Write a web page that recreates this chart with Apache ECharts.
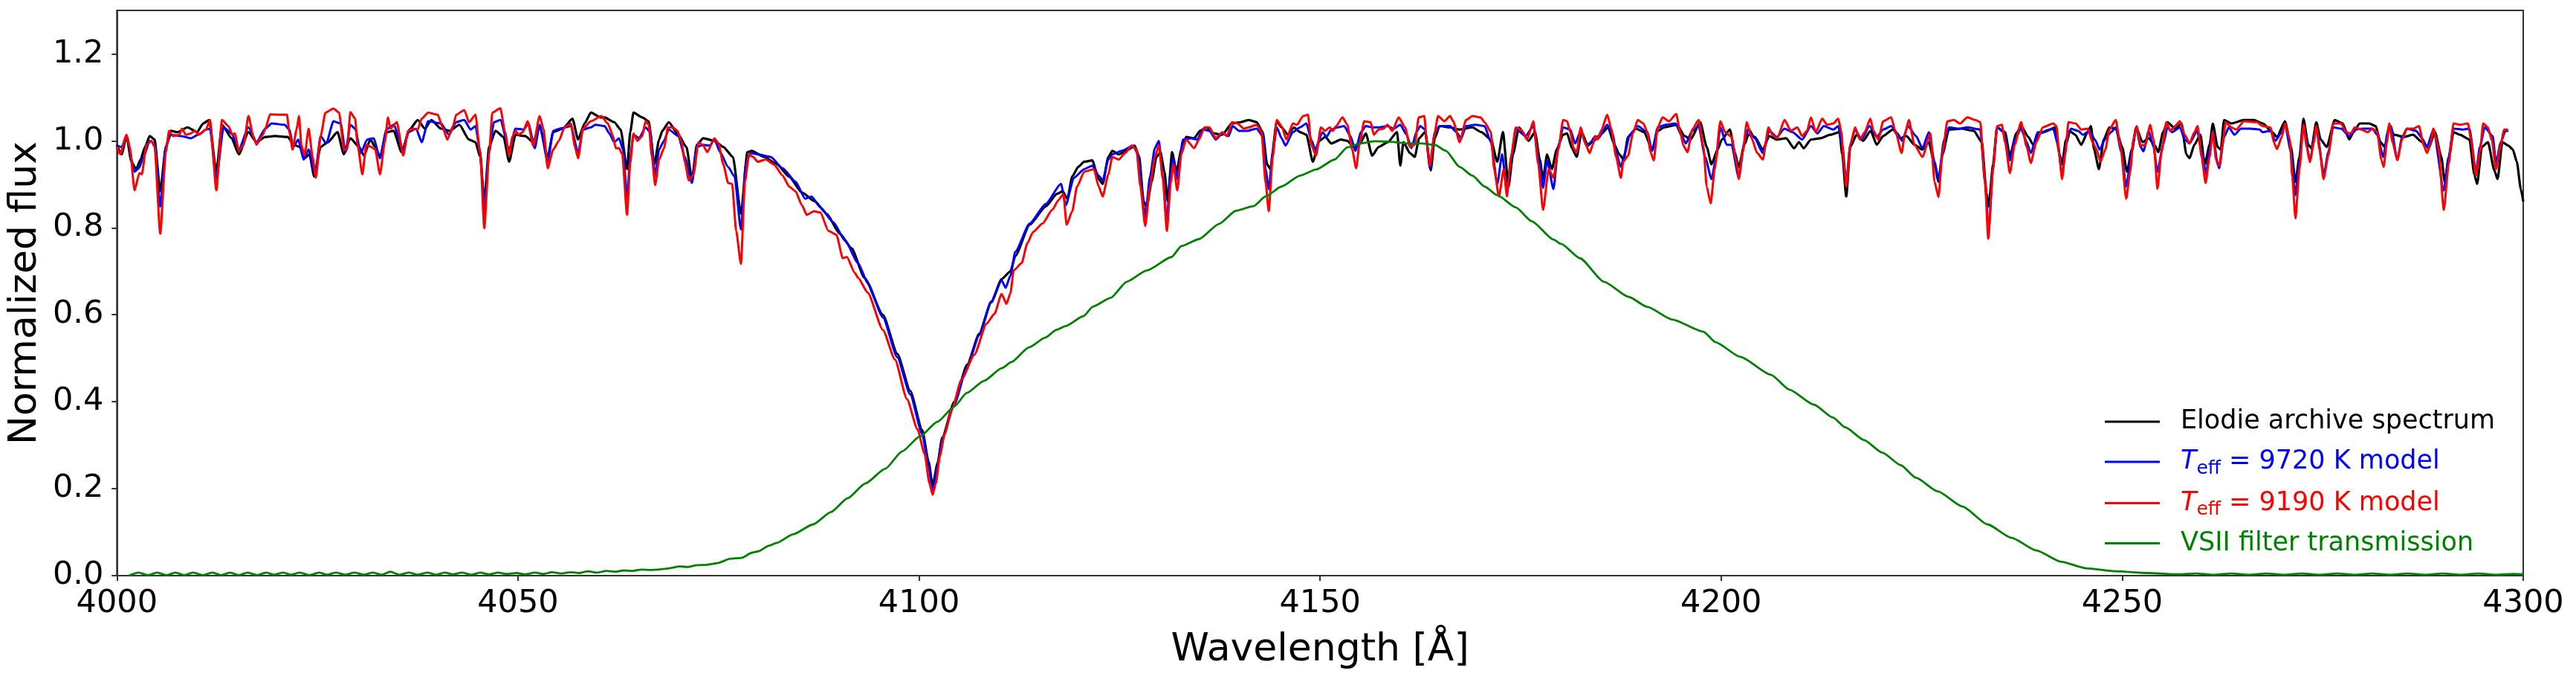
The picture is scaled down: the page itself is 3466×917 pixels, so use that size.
<!DOCTYPE html>
<html>
<head>
<meta charset="utf-8">
<title>Spectrum comparison</title>
<script src="https://cdn.jsdelivr.net/npm/echarts@6/dist/echarts.min.js"></script>
<style>
  html, body { margin: 0; padding: 0; background: #fff; }
  #chart { width: 3466px; height: 917px; }
</style>
</head>
<body>
<div id="chart"></div>
<script>
// [wavelength (Å), normalized flux]
var elodieSpectrum = [
  [4000.0,0.991],[4000.6,0.969],[4001.2,1.011],[4001.8,0.952],[4002.4,0.935],[4002.95,0.957],[4003.5,0.986],[4004.1,1.011],[4004.7,1.003],[4005.4,0.884],[4006.1,0.986],[4006.7,1.023],[4007.6,1.020],[4008.8,1.031],[4010.0,1.020],[4010.75,1.040],[4011.5,1.048],[4012.4,0.929],[4013.1,1.037],[4014.3,1.006],[4015.2,0.969],[4016.4,1.020],[4017.4,0.997],[4018.5,1.009],[4019.7,1.011],[4021.3,1.009],[4022.05,0.991],[4022.8,0.986],[4023.4,0.960],[4024.0,0.969],[4024.6,0.918],[4025.4,0.986],[4026.3,0.997],[4027.5,1.020],[4028.3,0.969],[4029.1,1.006],[4030.2,0.986],[4030.8,0.966],[4031.6,1.003],[4032.2,0.986],[4032.8,0.963],[4033.6,1.020],[4034.5,1.023],[4035.5,0.974],[4036.5,1.026],[4037.5,1.048],[4038.4,1.028],[4039.2,1.048],[4040.4,1.028],[4041.5,1.023],[4042.7,1.037],[4043.9,1.003],[4044.7,0.997],[4045.3,0.963],[4045.8,0.861],[4046.4,0.986],[4047.2,1.023],[4048.2,1.009],[4048.9,0.952],[4049.7,1.014],[4050.9,1.011],[4051.9,0.997],[4052.7,1.034],[4053.7,0.963],[4054.4,1.020],[4055.6,1.028],[4056.8,1.051],[4057.5,1.003],[4058.3,1.040],[4059.1,1.065],[4060.3,1.054],
  [4060.8,1.054],[4062.0,1.043],[4062.8,1.026],[4063.6,0.935],[4064.0,1.020],[4064.4,1.065],[4065.5,1.054],[4066.3,1.045],[4067.0,0.946],[4067.6,1.003],[4068.0,1.023],[4068.8,1.043],[4070.0,1.014],[4071.0,0.986],[4071.7,0.912],[4072.3,0.991],[4073.1,1.006],[4074.5,1.000],[4075.6,0.986],[4076.8,0.963],[4077.8,0.832],[4078.6,0.974],[4079.15,0.977],[4080.7,0.963],[4082.3,0.946],[4083.8,0.918],[4085.4,0.881],[4087.0,0.861],[4088.5,0.832],[4090.1,0.787],[4091.6,0.753],[4093.2,0.685],
  [4095.5,0.600],[4097.3,0.510],[4098.9,0.425],[4100.4,0.335],[4101.2,0.262],[4101.7,0.207],[4102.3,0.258],[4102.9,0.318],[4104.4,0.400],[4106.0,0.485],[4107.5,0.556],[4109.0,0.630],[4110.3,0.682],[4111.4,0.700],[4112.0,0.735],[4113.8,0.807],[4115.8,0.849],[4117.2,0.878],[4117.9,0.884],[4118.5,0.867],[4119.1,0.918],[4119.85,0.940],[4120.6,0.952],
  [4121.6,0.955],[4122.4,0.912],[4122.9,0.901],[4123.6,0.963],[4124.1,0.977],[4124.9,0.969],[4126.1,0.980],[4126.9,0.989],[4127.45,0.963],[4128.0,0.861],[4128.4,0.849],[4129.0,0.906],[4129.6,0.963],[4130.1,0.974],[4130.6,0.929],[4131.0,0.861],[4131.55,0.974],[4132.1,0.929],[4132.7,0.980],[4133.3,1.009],[4134.3,1.006],[4135.05,1.023],[4135.8,1.031],[4136.8,1.017],[4137.8,1.014],[4139.0,1.040],[4140.1,1.043],[4141.1,1.048],[4142.1,1.043],[4142.85,1.020],[4143.4,0.946],[4143.8,0.935],[4144.6,1.045],[4145.2,1.031],[4146.0,1.014],[4146.75,1.031],[4147.5,1.020],[4148.3,1.014],[4149.1,0.952],[4149.9,1.000],[4150.65,1.009],[4151.4,0.994],[4152.6,1.003],[4153.4,1.000],[4154.2,0.986],[4155.0,0.994],[4155.7,1.017],[4156.5,0.966],[4157.3,0.986],[4158.45,0.997],[4159.6,1.020],[4160.0,0.943],[4160.4,0.997],[4161.2,0.972],[4161.8,0.963],[4162.35,1.006],[4163.1,1.020],[4163.8,0.932],[4164.3,1.006],[4164.9,1.034],[4166.2,1.031],[4167.4,1.026],[4169.0,1.031],[4170.1,1.020],[4171.3,1.003],[4172.1,0.952],[4172.8,1.020],[4173.5,0.895],[4174.05,0.969],[4174.8,1.031],[4176.0,1.000],[4176.8,1.020],[4177.4,0.957],[4177.8,0.912],[4178.3,0.969],[4178.9,0.935],[4179.5,0.980],[4180.3,1.014],
  [4180.8,1.017],[4181.4,0.983],[4182.0,0.963],[4182.6,1.020],[4183.4,0.989],[4183.95,0.997],[4185.1,1.017],[4185.9,1.031],[4186.7,0.991],[4187.3,0.969],[4187.85,0.957],[4188.4,1.009],[4189.4,1.028],[4190.4,1.020],[4191.4,0.980],[4192.1,1.023],[4192.9,1.031],[4194.5,1.037],[4195.45,1.011],[4196.2,1.003],[4197.4,1.043],[4198.2,0.986],[4198.8,0.946],[4199.55,0.980],[4200.1,1.003],[4201.1,1.026],[4201.7,0.974],[4202.2,0.940],[4202.9,0.991],[4203.4,1.014],[4204.2,1.009],[4205.2,0.980],[4206.0,1.011],[4206.95,1.003],[4208.1,1.006],[4209.1,0.983],[4209.7,0.997],[4210.3,0.983],[4211.2,1.003],[4212.4,1.006],[4213.6,1.014],[4214.75,1.020],[4215.1,0.969],[4215.6,0.872],[4216.1,0.986],[4216.9,1.014],[4217.7,1.000],[4218.65,1.023],[4219.4,0.991],[4220.2,1.011],[4221.4,1.026],[4222.35,1.006],[4223.1,1.011],[4224.1,0.991],[4225.1,0.980],[4225.9,0.997],[4226.6,0.946],[4227.1,0.906],[4227.6,0.969],[4228.4,1.026],[4229.95,1.028],[4231.5,1.023],[4232.5,0.997],[4233.1,0.878],[4233.35,0.849],[4233.9,0.946],[4234.4,1.031],[4235.4,1.020],[4236.0,0.966],[4236.8,1.017],[4237.4,1.034],[4238.3,1.009],[4238.9,0.991],[4239.7,1.017],[4241.0,1.026],
  [4241.6,1.031],[4242.2,0.969],[4242.5,0.946],[4243.0,1.003],[4243.4,1.023],[4244.15,1.014],[4244.9,0.991],[4245.7,1.020],[4246.1,1.034],[4246.5,0.980],[4247.1,0.935],[4247.7,1.003],[4248.4,1.031],[4249.2,1.028],[4250.0,0.986],[4250.6,0.929],[4251.2,0.980],[4251.75,1.031],[4252.55,0.997],[4253.3,1.006],[4254.1,0.989],[4254.5,0.974],[4255.1,1.020],[4255.65,1.043],[4256.6,1.028],[4257.4,1.040],[4258.0,0.969],[4258.4,0.960],[4259.0,0.991],[4259.75,1.014],[4260.3,0.946],[4260.9,0.991],[4261.3,1.040],[4261.9,0.986],[4262.3,0.980],[4262.7,1.048],[4263.6,1.040],[4265.2,1.048],[4266.4,1.048],[4267.55,1.040],[4268.7,1.020],[4269.3,1.009],[4270.3,1.045],[4271.05,0.986],[4271.6,0.906],[4272.1,0.963],[4272.6,1.051],[4273.2,0.991],[4273.6,0.983],[4274.2,1.043],[4274.75,1.003],[4275.5,0.986],[4276.5,1.048],[4277.5,1.040],[4278.3,1.003],[4278.85,1.020],[4279.6,1.040],[4280.8,1.040],[4281.6,1.034],[4282.2,0.997],[4282.75,0.986],[4283.3,1.034],[4283.9,1.014],[4285.1,1.009],[4286.25,1.014],[4287.4,0.997],[4288.2,0.983],[4289.0,1.020],[4289.8,0.963],[4290.2,0.906],[4290.75,0.963],[4291.3,1.020],[4292.1,1.014],[4293.3,1.003],[4293.9,0.923],[4294.25,0.901],[4294.85,0.986],[4295.6,0.997],[4296.4,0.932],[4296.8,0.912],[4297.4,0.997],[4298.15,0.989],[4298.7,0.980],[4299.2,0.952],[4299.7,0.889],[4300.0,0.861]
];

var model9720 = [
  [4000.0,0.989],[4000.6,0.986],[4001.2,1.011],[4002.2,0.929],[4002.75,0.937],[4003.3,0.963],[4004.1,1.000],[4004.7,0.994],[4005.4,0.849],[4006.1,0.986],[4006.7,1.014],[4008.0,1.011],[4009.2,1.006],[4010.4,1.017],[4011.1,1.026],[4011.6,1.028],[4012.4,0.912],[4013.3,1.031],[4014.3,1.017],[4015.2,0.980],[4016.4,1.031],[4017.4,0.997],[4018.5,1.028],[4019.3,1.040],[4020.9,1.037],[4021.5,1.026],[4022.0,0.986],[4022.6,1.003],[4023.3,0.957],[4023.9,0.980],[4024.7,0.923],[4025.4,1.011],[4026.1,0.994],[4027.0,1.045],[4027.9,1.040],[4028.5,0.974],[4029.1,1.037],[4029.7,1.028],[4030.4,0.972],[4031.2,1.003],[4032.0,1.006],[4032.8,0.960],[4033.6,1.026],[4034.5,1.037],[4035.7,0.980],[4036.3,1.020],[4037.3,1.028],[4038.0,0.997],[4038.8,1.045],[4040.4,1.040],[4041.4,1.014],[4042.3,1.043],[4043.3,1.048],[4044.1,1.026],[4044.7,1.034],[4045.3,0.974],[4045.8,0.835],[4046.4,0.974],[4047.0,1.043],[4047.8,1.048],[4048.9,0.980],[4049.7,1.028],[4050.7,1.026],[4051.3,1.040],[4052.1,0.983],[4052.7,1.037],[4053.7,0.952],[4054.4,1.023],[4055.2,1.028],[4056.6,1.034],[4057.5,0.972],[4058.1,1.026],[4059.1,1.031],
  [4059.65,1.037],[4060.8,1.034],[4061.4,1.017],[4062.0,0.997],[4062.6,1.006],[4063.1,0.980],[4063.6,0.867],[4064.0,0.963],[4064.4,1.014],[4065.1,1.006],[4065.9,1.031],[4066.5,1.020],[4067.1,0.920],[4067.6,0.980],[4068.2,1.000],[4068.8,1.026],[4070.0,1.011],[4070.8,0.963],[4071.7,0.903],[4072.3,0.986],[4073.1,0.991],[4073.9,0.989],[4074.5,1.003],[4075.2,0.974],[4076.2,0.940],[4077.0,0.918],[4077.8,0.796],[4078.4,0.946],[4079.0,0.972],[4079.9,0.969],[4081.5,0.963],[4083.0,0.937],[4084.6,0.906],[4085.8,0.867],[4086.6,0.872],[4087.7,0.847],[4089.3,0.813],[4090.8,0.770],[4092.4,0.719],
  [4093.6,0.673],[4095.5,0.594],[4097.3,0.502],[4098.9,0.417],[4100.4,0.326],[4101.2,0.251],[4101.7,0.192],[4102.3,0.251],[4102.9,0.314],[4104.4,0.394],[4106.0,0.480],[4107.5,0.553],[4109.0,0.628],[4110.3,0.679],[4110.8,0.662],[4111.4,0.690],[4112.0,0.745],[4113.8,0.810],[4115.8,0.855],[4117.7,0.901],[4118.3,0.852],[4119.3,0.915],
  [4120.6,0.935],[4121.6,0.943],[4122.4,0.920],[4122.9,0.909],[4123.6,0.957],[4124.1,0.969],[4125.3,0.977],[4126.7,0.989],[4127.3,0.969],[4127.8,0.884],[4128.2,0.824],[4128.8,0.918],[4129.4,0.983],[4129.9,1.000],[4130.4,0.918],[4130.9,0.810],[4131.3,0.918],[4131.7,0.960],[4132.2,0.912],[4132.9,1.003],[4133.9,1.006],[4134.7,1.003],[4135.4,1.026],[4136.2,1.023],[4137.0,1.003],[4137.8,1.017],[4138.6,1.011],[4139.1,1.034],[4139.9,1.023],[4140.9,1.023],[4142.1,1.028],[4142.9,1.009],[4143.2,0.935],[4143.6,0.889],[4144.1,0.974],[4144.6,1.031],[4145.2,1.006],[4145.7,0.989],[4146.6,1.020],[4147.5,1.031],[4148.3,1.040],[4148.9,1.003],[4149.4,0.980],[4150.3,1.020],[4150.8,1.009],[4151.4,1.026],[4152.2,1.031],[4153.0,1.034],[4153.8,1.011],[4154.4,0.977],[4155.1,1.020],[4155.7,1.034],[4156.5,1.031],[4157.3,1.031],[4158.4,1.034],[4159.2,1.028],[4160.0,1.037],[4160.8,1.014],[4161.4,0.983],[4162.0,1.020],[4162.5,1.034],[4163.1,1.026],[4163.7,0.937],[4164.3,1.020],[4164.9,1.034],[4166.2,1.034],[4167.0,1.020],[4167.6,1.006],[4168.2,1.034],[4169.4,1.037],[4170.5,1.034],[4171.3,0.997],[4172.1,0.901],[4172.7,0.969],[4173.3,0.884],[4173.9,0.969],[4174.4,1.028],[4175.6,1.011],[4176.6,1.034],[4177.2,0.963],[4177.8,0.892],[4178.3,0.955],[4179.1,0.889],[4179.7,0.986],[4180.3,1.031],
  [4181.2,1.026],[4181.8,0.994],[4182.5,1.023],[4183.2,0.989],[4183.75,0.997],[4184.3,1.011],[4184.7,1.006],[4185.8,1.037],[4186.5,1.014],[4186.9,0.974],[4187.5,0.940],[4188.0,0.972],[4188.6,1.014],[4189.6,1.034],[4190.8,1.020],[4191.4,0.977],[4192.1,1.031],[4193.1,1.037],[4194.3,1.040],[4195.1,1.011],[4195.6,0.994],[4196.4,1.023],[4197.2,1.034],[4198.0,0.963],[4198.8,0.912],[4199.4,0.963],[4199.9,1.031],[4200.7,0.991],[4201.3,0.991],[4202.2,0.915],[4202.9,0.997],[4203.4,1.028],[4204.2,1.006],[4205.2,0.972],[4206.0,1.023],[4206.95,1.009],[4207.9,1.028],[4208.9,1.020],[4210.1,1.003],[4211.2,1.034],[4212.0,1.017],[4212.8,1.034],[4214.0,1.026],[4214.6,1.034],[4215.1,0.991],[4215.6,0.903],[4216.1,0.991],[4216.7,1.026],[4217.5,1.003],[4218.5,1.034],[4219.4,1.009],[4220.2,1.026],[4221.2,1.034],[4222.0,1.017],[4222.55,1.000],[4223.3,1.034],[4224.3,1.011],[4225.1,0.983],[4225.9,1.020],[4226.6,0.952],[4227.1,0.912],[4227.8,1.003],[4228.4,1.031],[4229.6,1.028],[4230.7,1.031],[4232.3,1.026],[4232.9,0.906],[4233.35,0.793],[4233.9,0.935],[4234.4,1.031],[4235.2,1.020],[4236.0,0.955],[4236.6,1.003],[4237.4,1.028],[4238.1,0.997],[4238.6,0.972],[4239.5,1.020],[4240.25,1.020],
  [4241.4,1.028],[4242.0,0.991],[4242.5,0.918],[4243.0,0.991],[4243.6,1.028],[4244.5,1.023],[4245.1,1.014],[4245.9,1.023],[4246.6,1.003],[4247.2,0.980],[4247.85,1.003],[4248.6,1.020],[4249.2,1.031],[4249.9,0.974],[4250.5,0.895],[4251.2,0.974],[4251.75,1.031],[4252.3,0.986],[4252.65,0.976],[4253.3,1.023],[4253.9,0.986],[4254.4,0.929],[4255.1,0.991],[4255.65,1.031],[4256.2,1.020],[4257.2,1.031],[4257.8,1.003],[4258.4,0.994],[4259.35,1.023],[4259.9,0.977],[4260.45,0.923],[4260.9,0.980],[4261.3,1.020],[4261.9,0.946],[4262.1,0.937],[4262.7,1.009],[4263.3,1.031],[4264.0,1.014],[4264.8,1.028],[4266.0,1.028],[4267.15,1.026],[4267.5,1.020],[4268.5,1.023],[4269.1,1.000],[4269.9,1.020],[4270.3,1.037],[4271.05,0.974],[4271.6,0.875],[4272.1,0.952],[4272.6,1.034],[4273.4,0.955],[4274.2,1.031],[4275.15,0.923],[4275.7,0.974],[4276.3,1.031],[4277.3,1.028],[4278.3,1.011],[4279.05,1.026],[4280.0,1.028],[4281.2,1.028],[4281.8,1.014],[4282.55,0.963],[4283.1,1.020],[4283.5,1.034],[4284.3,0.956],[4284.9,1.009],[4285.5,1.028],[4286.65,1.023],[4287.4,1.006],[4288.0,0.986],[4288.8,1.026],[4290.1,0.886],[4290.7,0.963],[4291.3,1.028],[4292.5,1.026],[4293.3,1.028],[4294.1,0.929],[4294.6,0.986],[4295.2,1.031],[4296.2,1.011],[4296.6,0.949],[4297.2,0.997],[4297.8,1.023],[4298.15,1.023]
];

var model9190 = [
  [4000.0,0.986],[4000.4,0.969],[4001.2,1.014],[4001.6,0.986],[4002.2,0.886],[4002.8,0.926],[4003.1,0.923],[4003.7,0.991],[4004.3,1.000],[4004.7,0.986],[4005.4,0.786],[4006.1,0.974],[4006.5,1.023],[4007.0,1.011],[4007.8,1.014],[4008.1,1.028],[4008.6,1.014],[4009.2,1.017],[4009.7,1.023],[4010.2,1.014],[4011.1,1.026],[4011.6,1.048],[4012.4,0.886],[4013.1,1.048],[4013.9,1.034],[4014.4,1.014],[4014.7,1.017],[4015.2,0.977],[4015.8,0.991],[4016.4,1.057],[4017.0,1.011],[4017.4,0.991],[4018.2,1.014],[4018.5,1.028],[4019.1,1.061],[4020.5,1.060],[4021.2,1.060],[4021.5,1.020],[4021.9,0.980],[4022.4,1.026],[4022.7,1.057],[4023.0,0.991],[4023.4,0.966],[4023.9,1.028],[4024.4,0.963],[4024.8,0.915],[4025.4,1.011],[4026.0,1.065],[4027.0,1.074],[4027.7,1.065],[4028.3,0.980],[4028.7,0.980],[4029.1,1.066],[4029.7,1.051],[4030.0,0.991],[4030.6,0.923],[4031.1,0.991],[4031.7,0.986],[4032.2,0.980],[4032.8,0.923],[4033.4,0.997],[4033.8,1.054],[4034.1,1.028],[4034.9,1.043],[4035.7,0.966],[4036.3,1.023],[4036.9,1.028],[4037.5,1.026],[4038.0,1.051],[4038.8,1.065],[4040.0,1.060],[4040.6,1.031],[4041.2,1.003],[4041.9,1.034],[4042.3,1.060],[4043.3,1.071],[4043.9,1.043],[4044.7,1.060],[4045.3,0.969],[4045.8,0.799],[4046.4,0.969],[4046.8,1.065],[4047.8,1.075],[4048.4,1.020],[4048.9,0.966],[4049.3,1.009],[4049.7,1.023],[4050.1,1.014],[4050.6,1.020],[4051.2,1.045],[4051.9,0.989],[4052.7,1.057],[4053.2,1.026],[4053.7,0.937],[4054.4,0.980],[4055.1,1.000],[4055.8,1.031],[4056.6,1.040],[4057.1,0.986],[4057.5,0.960],[4058.1,1.028],[4059.1,1.045],
  [4060.4,1.057],[4061.2,1.040],[4061.8,1.014],[4062.2,0.983],[4062.6,0.983],[4063.0,0.969],[4063.6,0.830],[4064.0,0.949],[4064.4,1.017],[4064.9,1.000],[4065.5,1.011],[4065.9,1.045],[4066.3,1.037],[4066.7,0.963],[4067.1,0.898],[4067.6,0.957],[4068.2,0.983],[4068.7,1.031],[4069.3,1.031],[4069.9,1.023],[4070.4,0.997],[4070.8,0.952],[4071.3,0.909],[4071.9,0.923],[4072.5,0.997],[4073.1,0.989],[4073.6,0.974],[4074.5,1.006],[4075.0,0.994],[4075.6,0.946],[4076.2,0.903],[4076.7,0.901],[4077.2,0.793],[4077.8,0.717],[4078.3,0.906],[4078.8,0.969],[4079.3,0.963],[4079.9,0.952],[4080.9,0.957],[4081.9,0.946],[4083.0,0.920],[4083.8,0.895],[4084.6,0.884],[4085.4,0.852],[4086.0,0.830],[4086.9,0.838],[4087.7,0.835],[4088.7,0.793],[4089.7,0.784],[4090.5,0.730],[4091.0,0.733],[4092.0,0.696],
  [4092.4,0.685],[4093.6,0.651],[4095.5,0.565],[4097.0,0.497],[4098.5,0.406],[4099.8,0.337],[4100.7,0.280],[4101.3,0.212],[4101.7,0.186],[4102.1,0.212],[4102.6,0.275],[4103.2,0.326],[4104.1,0.383],[4105.3,0.451],[4106.9,0.508],[4108.4,0.579],[4109.4,0.602],[4110.3,0.648],[4110.9,0.625],[4111.4,0.650],[4111.8,0.702],[4112.8,0.719],[4113.5,0.764],[4114.2,0.790],[4115.4,0.810],[4116.6,0.841],[4117.4,0.864],[4118.0,0.878],[4118.4,0.807],[4119.1,0.838],[4119.7,0.895],
  [4120.6,0.929],[4121.8,0.935],[4122.4,0.895],[4122.9,0.872],[4123.6,0.923],[4124.1,0.963],[4124.9,0.957],[4125.7,0.972],[4126.5,0.989],[4127.1,0.980],[4127.6,0.895],[4128.2,0.804],[4128.8,0.895],[4129.4,0.963],[4129.9,0.989],[4130.4,0.912],[4130.9,0.793],[4131.4,0.906],[4131.7,0.946],[4132.2,0.886],[4132.7,0.969],[4133.3,1.003],[4134.3,0.983],[4134.9,1.003],[4135.6,1.031],[4136.2,1.031],[4137.0,1.006],[4137.8,1.020],[4138.4,1.011],[4139.0,1.043],[4139.7,1.040],[4140.5,1.028],[4141.1,1.031],[4142.1,1.037],[4142.7,1.020],[4143.2,0.906],[4143.6,0.838],[4144.1,0.963],[4144.6,1.048],[4145.2,1.034],[4145.8,1.003],[4146.6,1.040],[4147.1,1.037],[4147.9,1.057],[4148.5,1.060],[4148.9,0.991],[4149.5,0.966],[4150.1,1.031],[4150.6,1.023],[4151.2,1.031],[4151.6,1.023],[4152.0,1.034],[4152.8,1.054],[4153.4,1.037],[4154.0,0.980],[4154.5,0.937],[4154.9,0.991],[4155.5,1.045],[4156.3,1.043],[4156.7,1.014],[4157.3,1.026],[4157.9,1.028],[4158.4,1.037],[4159.0,1.023],[4159.8,1.054],[4160.6,1.031],[4161.2,0.986],[4161.8,0.991],[4162.3,1.054],[4163.0,1.057],[4163.3,0.997],[4163.7,0.943],[4164.2,1.009],[4164.7,1.057],[4165.5,1.045],[4166.2,1.057],[4166.6,1.045],[4167.4,0.997],[4168.2,1.048],[4169.0,1.057],[4170.0,1.054],[4170.5,1.043],[4171.3,1.020],[4171.7,0.935],[4172.3,0.872],[4172.9,0.935],[4173.3,0.872],[4173.8,0.963],[4174.4,1.031],[4175.2,1.023],[4175.8,1.003],[4176.6,1.045],[4177.2,0.946],[4177.8,0.841],[4178.5,0.935],[4179.1,0.915],[4179.7,0.980],[4180.3,1.048],
  [4180.8,1.045],[4181.2,1.020],[4181.6,0.983],[4182.0,0.974],[4182.5,1.031],[4183.0,0.997],[4183.6,0.972],[4184.0,0.991],[4184.3,1.011],[4184.6,1.003],[4185.1,1.026],[4185.8,1.060],[4186.3,1.028],[4186.9,0.963],[4187.5,0.915],[4187.8,0.952],[4188.4,0.966],[4189.0,1.017],[4189.6,1.048],[4190.3,1.040],[4190.8,1.020],[4191.2,0.974],[4191.6,0.955],[4192.1,1.031],[4192.7,1.054],[4193.5,1.045],[4194.4,1.062],[4194.9,1.020],[4195.3,0.989],[4195.8,0.974],[4196.4,1.026],[4197.2,1.048],[4197.8,0.986],[4198.2,0.895],[4198.7,0.856],[4199.2,0.935],[4199.9,1.045],[4200.5,1.020],[4201.3,1.009],[4201.9,0.952],[4202.2,0.912],[4202.7,0.974],[4203.2,1.043],[4203.8,1.006],[4204.5,0.972],[4205.2,0.957],[4205.9,1.031],[4206.4,1.014],[4207.0,1.006],[4207.9,1.048],[4208.7,1.023],[4209.5,1.031],[4210.1,1.011],[4210.7,1.023],[4211.2,1.054],[4211.8,1.020],[4212.6,1.051],[4213.2,1.037],[4214.0,1.040],[4214.6,1.051],[4215.0,1.020],[4215.3,0.946],[4215.6,0.895],[4216.1,0.991],[4216.7,1.031],[4217.3,1.003],[4217.9,1.020],[4218.6,1.051],[4219.0,1.023],[4219.6,1.003],[4220.2,1.045],[4221.2,1.054],[4221.8,1.017],[4222.5,0.972],[4222.9,1.014],[4223.4,1.048],[4224.1,0.991],[4225.1,0.963],[4226.1,1.017],[4226.6,0.906],[4227.1,0.871],[4227.6,0.974],[4228.2,1.045],[4229.0,1.048],[4229.8,1.040],[4230.7,1.054],[4231.7,1.048],[4232.3,1.043],[4232.9,0.906],[4233.3,0.775],[4233.9,0.935],[4234.4,1.034],[4235.0,1.037],[4235.4,0.997],[4236.0,0.926],[4236.6,0.991],[4237.4,1.043],[4238.1,0.986],[4238.6,0.949],[4239.3,0.997],[4240.1,1.031],
  [4241.4,1.040],[4241.8,1.034],[4242.2,0.963],[4242.5,0.912],[4242.9,0.969],[4243.3,1.043],[4244.2,1.040],[4244.9,1.026],[4245.7,1.028],[4246.3,0.997],[4246.8,0.980],[4247.3,0.952],[4247.9,0.980],[4248.4,1.026],[4249.2,1.048],[4249.8,0.986],[4250.5,0.867],[4251.0,0.929],[4251.4,1.003],[4251.8,1.034],[4252.3,0.989],[4252.9,0.991],[4253.5,1.037],[4253.9,1.003],[4254.4,0.890],[4254.9,0.974],[4255.5,1.043],[4256.0,1.023],[4256.6,1.034],[4257.2,1.045],[4257.8,1.014],[4258.4,0.994],[4259.0,1.020],[4259.4,1.034],[4259.9,0.963],[4260.4,0.903],[4260.9,0.963],[4261.3,1.020],[4261.7,0.957],[4262.1,0.943],[4262.5,0.991],[4262.9,1.043],[4263.6,1.031],[4264.2,1.026],[4265.2,1.045],[4266.8,1.043],[4267.5,1.034],[4268.5,1.031],[4268.9,0.997],[4269.3,0.981],[4269.9,1.009],[4270.3,1.040],[4270.9,1.003],[4271.2,0.918],[4271.6,0.822],[4272.1,0.935],[4272.6,1.037],[4273.0,0.986],[4273.4,0.951],[4273.9,0.997],[4274.2,1.034],[4274.6,0.980],[4275.1,0.912],[4275.7,0.966],[4276.3,1.040],[4277.3,1.040],[4277.9,1.020],[4278.5,1.017],[4279.0,1.031],[4279.8,1.026],[4280.6,1.020],[4281.2,1.028],[4281.8,1.020],[4282.3,0.957],[4282.6,0.940],[4283.0,0.997],[4283.3,1.040],[4283.7,0.997],[4284.3,0.956],[4284.9,1.003],[4285.5,1.028],[4286.3,1.028],[4287.0,1.034],[4287.6,0.989],[4288.0,0.972],[4288.4,0.991],[4288.8,1.028],[4289.4,0.986],[4290.1,0.841],[4290.7,0.946],[4291.3,1.040],[4292.1,1.037],[4293.1,1.040],[4293.5,1.003],[4294.1,0.920],[4294.6,0.974],[4295.0,1.040],[4295.6,1.031],[4296.1,1.000],[4296.6,0.935],[4297.2,0.991],[4297.6,1.026],[4298.1,1.026]
];

var vsiiFilter = [
  [4001.5,0.000],[4002.7,0.007],[4003.9,0.001],[4005.0,0.007],[4006.2,0.001],[4007.3,0.007],[4008.4,0.001],[4009.5,0.007],[4010.7,0.001],[4011.9,0.007],[4013.0,0.001],[4014.1,0.007],[4015.2,0.001],[4016.3,0.007],[4017.5,0.001],[4018.6,0.007],[4019.6,0.002],[4020.7,0.007],[4021.7,0.002],[4022.8,0.007],[4024.0,0.001],[4025.2,0.007],[4026.2,0.002],[4027.3,0.007],[4028.5,0.002],[4029.6,0.007],[4030.8,0.002],[4031.9,0.007],[4033.0,0.002],[4034.1,0.009],[4035.2,0.002],[4036.4,0.007],[4037.5,0.002],[4038.7,0.007],[4039.8,0.002],[4040.9,0.007],[4041.9,0.003],[4043.0,0.007],[4044.2,0.002],[4045.3,0.007],[4046.4,0.003],[4047.5,0.007],[4048.6,0.004],[4049.8,0.006],[4050.9,0.003],[4052.1,0.007],[4053.2,0.004],[4054.2,0.008],[4055.4,0.005],[4056.6,0.008],[4057.6,0.006],[4058.7,0.010],[4059.9,0.007],[4061.0,0.011],[4062.1,0.009],[4063.2,0.012],[4064.3,0.011],[4065.4,0.014],[4066.5,0.013],[4067.5,0.014],[4068.5,0.016],[4070.2,0.021],[4071.2,0.020],[4072.3,0.024],[4073.6,0.025],[4074.9,0.029],[4076.5,0.039],[4077.9,0.041],[4079.2,0.053],[4080.0,0.056],[4081.3,0.069],[4082.2,0.075],[4084.3,0.095],[4086.8,0.118],[4089.0,0.146],[4091.1,0.178],[4093.3,0.212],[4095.8,0.246],[4097.9,0.286],[4100.1,0.320],[4102.3,0.354],[4104.4,0.389],[4105.95,0.420],[4108.1,0.448],[4110.3,0.477],[4111.5,0.491],[4113.7,0.525],[4115.8,0.548],[4117.1,0.565],[4118.3,0.574],[4120.5,0.597],[4121.7,0.619],[4123.9,0.639],[4125.9,0.676],[4128.4,0.702],[4131.5,0.733],[4132.7,0.758],[4134.9,0.774],[4137.4,0.809],[4139.5,0.839],[4141.7,0.850],[4143.2,0.872],[4145.2,0.895],[4147.5,0.920],[4149.5,0.934],[4151.8,0.957],[4153.4,0.985],[4155.0,0.994],[4156.9,0.999],[4158.8,0.998],[4160.8,0.994],[4162.7,0.994],[4164.3,0.991],[4165.7,0.977],[4167.4,0.940],[4169.0,0.920],[4170.5,0.895],[4172.1,0.875],[4174.4,0.847],[4176.4,0.815],[4179.1,0.773],[4180.05,0.763],[4182.4,0.730],[4185.4,0.676],[4188.5,0.641],[4190.8,0.618],[4193.9,0.589],[4197.8,0.561],[4199.3,0.537],[4202.4,0.503],[4206.2,0.462],[4208.5,0.428],[4211.6,0.393],[4213.9,0.364],[4215.5,0.341],[4217.8,0.312],[4220.1,0.283],[4222.4,0.254],[4224.3,0.225],[4227.0,0.194],[4230.1,0.159],[4233.2,0.118],[4236.2,0.087],[4239.3,0.058],[4242.4,0.032],[4245.5,0.017],[4249.3,0.010],[4253.2,0.006],[4257.0,0.003],[4259.2,0.005],[4261.4,0.002],[4263.6,0.005],[4265.8,0.002],[4268.0,0.005],[4270.2,0.002],[4272.4,0.005],[4274.6,0.002],[4276.8,0.005],[4279.0,0.002],[4281.2,0.005],[4283.4,0.002],[4285.6,0.005],[4287.8,0.002],[4290.0,0.005],[4292.2,0.002],[4294.4,0.005],[4296.6,0.002],[4298.8,0.004],[4300.0,0.003]
];

var seriesNames = ['Elodie archive spectrum', 'Teff = 9720 K model', 'Teff = 9190 K model', 'VSII filter transmission'];
var seriesColors = ['#000000', '#0000ff', '#ff0000', '#008000'];
var seriesWidths = [3.2, 3, 3, 2.8];
var seriesData = [elodieSpectrum, model9720, model9190, vsiiFilter];

var wavelengthRange = [4000, 4300];
var fluxRange = [0, 1.3];

var font = 'DejaVu Sans';
var axisColor = '#333';
var chart = echarts.init(document.getElementById('chart'));

var series = seriesData.map(function (d, i) {
  return {
    name: seriesNames[i],
    type: 'line',
    data: d,
    showSymbol: false,
    smooth: 0.2,
    smoothMonotone: 'x',
    clip: true,
    lineStyle: { color: seriesColors[i], width: seriesWidths[i] },
    itemStyle: { color: seriesColors[i] },
    emphasis: { disabled: true }
  };
});

chart.setOption({
  animation: false,
  backgroundColor: '#ffffff',
  grid: {
    left: 156, right: 71, top: 14, bottom: 143,
    show: true, borderColor: axisColor, borderWidth: 2, backgroundColor: 'transparent'
  },
  legend: {
    orient: 'vertical',
    left: 2827,
    top: 542,
    itemWidth: 74,
    itemHeight: 3,
    itemGap: 12.5,
    icon: 'rect',
    data: seriesNames.map(function (n, i) {
      return { name: n, textStyle: { color: seriesColors[i] } };
    }),
    formatter: function (name) {
      return name.replace(/^Teff/, '{i|T}{sub|eff}');
    },
    textStyle: {
      fontFamily: font,
      fontSize: 35,
      lineHeight: 40,
      padding: [0, 0, 0, 23],
      rich: {
        i: { fontFamily: font, fontSize: 35, fontStyle: 'italic', lineHeight: 40 },
        sub: { fontFamily: font, fontSize: 25, lineHeight: 40, padding: [18, 0, 0, 0] }
      }
    }
  },
  xAxis: {
    type: 'value',
    min: wavelengthRange[0],
    max: wavelengthRange[1],
    interval: 50,
    name: 'Wavelength [Å]',
    nameLocation: 'middle',
    nameGap: 74,
    nameTextStyle: { fontFamily: font, fontSize: 52, color: '#000' },
    axisLine: { show: true, lineStyle: { color: axisColor, width: 2 } },
    axisTick: { show: true, length: 7, lineStyle: { color: axisColor, width: 2 } },
    axisLabel: {
      fontFamily: font, fontSize: 43, color: '#000', margin: 16,
      formatter: function (v) { return String(v); }
    },
    splitLine: { show: false }
  },
  yAxis: {
    type: 'value',
    min: fluxRange[0],
    max: fluxRange[1],
    interval: 0.2,
    name: 'Normalized flux',
    nameLocation: 'middle',
    nameGap: 92,
    nameTextStyle: { fontFamily: font, fontSize: 52, color: '#000' },
    axisLine: { show: true, lineStyle: { color: axisColor, width: 2 } },
    axisTick: { show: true, length: 7, lineStyle: { color: axisColor, width: 2 } },
    axisLabel: {
      fontFamily: font, fontSize: 43, color: '#000', margin: 18,
      showMaxLabel: false,
      formatter: function (v) { return v.toFixed(1); }
    },
    splitLine: { show: false }
  },
  series: series
});
</script>
</body>
</html>
